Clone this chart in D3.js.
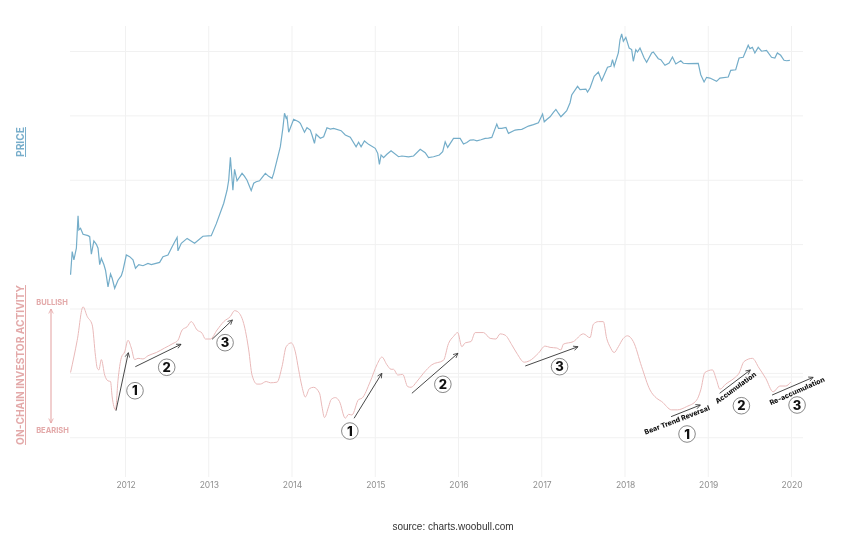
<!DOCTYPE html>
<html>
<head>
<meta charset="utf-8">
<script src="https://cdnjs.cloudflare.com/ajax/libs/d3/7.8.5/d3.min.js"></script>
<style>
  html, body { margin: 0; background: #fff; }
  svg { display: block; filter: blur(0.45px); }
  text { font-family: "Inter", "Liberation Sans", sans-serif; }
</style>
</head>
<body>
<svg id="chart"></svg>
<script>

// [decimal year, price in usd]
var priceData = [
  [2011.34,3.4],[2011.36,7.8],[2011.38,5.8],[2011.41,8.8],[2011.43,28],[2011.44,16.9],[2011.46,17.9],[2011.49,14.5],
  [2011.55,13.8],[2011.57,13.3],[2011.59,7.1],[2011.62,11.4],[2011.65,10.1],[2011.67,8.8],[2011.69,4.9],[2011.71,6.1],
  [2011.74,4.9],[2011.76,4.0],[2011.79,2.2],[2011.82,3.5],[2011.84,3.0],[2011.87,2.1],[2011.91,2.8],[2011.95,3.3],
  [2011.97,4.0],[2012.01,6.9],[2012.05,6.5],[2012.09,5.8],[2012.12,4.3],[2012.16,4.9],[2012.21,4.7],[2012.27,5.1],
  [2012.31,4.9],[2012.41,5.3],[2012.45,6.5],[2012.51,6.9],[2012.56,9.3],[2012.62,13],[2012.63,8.0],[2012.67,10.5],
  [2012.74,12.5],[2012.83,10.5],[2012.93,13.5],[2013.03,13.8],[2013.09,21],[2013.18,44],[2013.22,70],[2013.24,101],
  [2013.26,227],[2013.29,70],[2013.31,148],[2013.34,98],[2013.40,128],[2013.43,115],[2013.46,100],[2013.49,80],
  [2013.51,69],[2013.54,90],[2013.57,95],[2013.61,98],[2013.64,110],[2013.68,128],[2013.72,115],[2013.76,107],
  [2013.78,128],[2013.82,206],[2013.86,332],[2013.89,641],[2013.91,1096],[2013.93,917],[2013.94,971],[2013.96,556],
  [2014.02,885],[2014.08,812],[2014.10,767],[2014.15,556],[2014.18,655],[2014.22,603],[2014.24,505],[2014.27,375],
  [2014.29,518],[2014.34,449],[2014.38,475],[2014.42,655],[2014.46,625],[2014.50,641],[2014.59,589],[2014.64,505],
  [2014.70,465],[2014.77,332],[2014.80,389],[2014.83,332],[2014.87,407],[2014.92,361],[2015.00,313],[2015.03,262],
  [2015.05,177],[2015.07,247],[2015.10,224],[2015.14,253],[2015.19,288],[2015.28,232],[2015.32,238],[2015.40,230],
  [2015.46,238],[2015.54,303],[2015.60,268],[2015.64,224],[2015.70,232],[2015.77,247],[2015.81,277],[2015.84,396],
  [2015.87,324],[2015.94,447],[2016.02,447],[2016.06,365],[2016.10,385],[2016.14,421],[2016.18,425],[2016.22,410],
  [2016.27,425],[2016.32,447],[2016.36,450],[2016.40,463],[2016.46,746],[2016.48,640],[2016.52,640],[2016.57,662],
  [2016.60,535],[2016.68,602],[2016.72,610],[2016.76,617],[2016.80,655],[2016.84,695],[2016.90,730],[2016.96,782],
  [2017.01,1066],[2017.03,809],[2017.06,880],[2017.10,968],[2017.14,1130],[2017.17,1260],[2017.20,1100],[2017.23,968],
  [2017.26,1060],[2017.30,1202],[2017.34,1600],[2017.36,2110],[2017.43,2880],[2017.46,2550],[2017.53,2610],[2017.55,2350],
  [2017.58,2710],[2017.63,4120],[2017.68,4800],[2017.72,3520],[2017.79,5690],[2017.83,5890],[2017.85,7460],[2017.87,5890],
  [2017.92,9480],[2017.94,15200],[2017.96,18700],[2017.98,14400],[2018.01,16600],[2018.05,11300],[2018.08,10700],[2018.10,7050],
  [2018.13,10700],[2018.15,9820],[2018.18,11300],[2018.23,7930],[2018.26,6790],[2018.32,9480],[2018.34,9820],[2018.40,7730],
  [2018.43,7460],[2018.48,6110],[2018.53,6620],[2018.57,8220],[2018.61,6400],[2018.67,7190],[2018.70,6560],[2018.76,6500],
  [2018.88,6560],[2018.91,4360],[2018.95,3360],[2018.98,3970],[2019.02,3870],[2019.10,3440],[2019.14,3870],[2019.24,4020],
  [2019.27,5100],[2019.33,5210],[2019.37,7930],[2019.42,8130],[2019.48,12500],[2019.50,11100],[2019.53,11600],[2019.56,9480],
  [2019.60,11600],[2019.64,10100],[2019.70,10400],[2019.76,8130],[2019.80,7930],[2019.83,9480],[2019.87,8730],[2019.91,7300],
  [2019.94,7190],[2019.98,7300]
];

// [decimal year, activity from bearish -1 to bullish 1]
var activityData = [
  [2011.34,.07],[2011.42,.57],[2011.49,1.09],[2011.54,.94],[2011.60,.81],[2011.64,.32],[2011.66,.14],[2011.68,.11],
  [2011.71,.27],[2011.75,.03],[2011.79,-.06],[2011.82,-.07],[2011.84,-.31],[2011.88,-.51],[2011.91,-.05],[2011.95,.30],
  [2011.99,.39],[2012.03,.57],[2012.07,.45],[2012.11,.27],[2012.15,.29],[2012.21,.28],[2012.27,.33],[2012.37,.38],
  [2012.47,.45],[2012.57,.52],[2012.63,.57],[2012.68,.73],[2012.74,.78],[2012.79,.86],[2012.86,.73],[2012.92,.68],
  [2012.96,.59],[2013.02,.59],[2013.10,.73],[2013.18,.86],[2013.26,.94],[2013.31,1.03],[2013.34,1.02],[2013.42,.83],
  [2013.48,.42],[2013.52,.03],[2013.58,-.11],[2013.62,-.11],[2013.69,-.07],[2013.74,-.09],[2013.82,-.08],[2013.88,.16],
  [2013.93,.47],[2013.99,.53],[2014.04,.39],[2014.08,.11],[2014.12,-.15],[2014.16,-.31],[2014.21,-.18],[2014.26,-.16],
  [2014.33,-.25],[2014.36,-.46],[2014.39,-.63],[2014.44,-.46],[2014.47,-.35],[2014.52,-.32],[2014.57,-.38],[2014.64,-.64],
  [2014.68,-.58],[2014.72,-.59],[2014.80,-.35],[2014.84,-.33],[2014.94,-.07],[2015.02,.19],[2015.08,.31],[2015.14,.19],
  [2015.19,.12],[2015.22,.12],[2015.27,.03],[2015.33,.04],[2015.39,-.15],[2015.43,-.16],[2015.50,-.07],[2015.58,.06],
  [2015.68,.19],[2015.82,.26],[2015.88,.52],[2015.94,.63],[2015.99,.69],[2016.04,.47],[2016.08,.53],[2016.15,.55],
  [2016.20,.69],[2016.30,.69],[2016.38,.60],[2016.45,.59],[2016.50,.67],[2016.56,.65],[2016.64,.50],[2016.70,.37],
  [2016.79,.23],[2016.85,.25],[2016.96,.37],[2017.04,.48],[2017.10,.46],[2017.18,.45],[2017.23,.42],[2017.26,.51],
  [2017.38,.55],[2017.50,.67],[2017.58,.61],[2017.62,.82],[2017.68,.86],[2017.74,.86],[2017.78,.60],[2017.82,.47],
  [2017.87,.38],[2017.92,.47],[2017.98,.60],[2018.03,.64],[2018.10,.55],[2018.20,.16],[2018.30,-.20],[2018.38,-.33],
  [2018.44,-.38],[2018.56,-.51],[2018.63,-.51],[2018.74,-.46],[2018.86,-.36],[2018.91,-.20],[2018.96,.07],[2019.05,.11],
  [2019.10,-.05],[2019.14,-.19],[2019.21,-.11],[2019.31,-.02],[2019.37,.06],[2019.43,.24],[2019.53,.29],[2019.61,.14],
  [2019.69,-.02],[2019.78,-.23],[2019.86,-.14],[2019.93,-.14],[2019.99,-.08]
];

var yearTicks = [2012, 2013, 2014, 2015, 2016, 2017, 2018, 2019, 2020];
var priceTicks = [0.01, 0.1, 1, 10, 100, 1000, 10000];

// trend arrows: year from, activity from, year to, activity to
var arrows = [
  [2011.886,-.523,2012.034,.377],[2012.118,.16,2012.667,.508],[2013.04,.585,2013.284,.885],
  [2014.746,-.641,2015.079,.057],[2015.44,-.253,2015.993,.368],[2016.802,.171,2017.435,.47],
  [2018.553,-.616,2018.905,-.435],[2019.137,-.253,2019.506,.109],[2019.767,-.28,2020.26,-.005]
];
// numbered badges: year, activity, number
var badges = [
  [2012.114,-.213,1],[2012.495,.151,2],[2013.196,.533,3],
  [2014.695,-.839,1],[2015.812,-.113,2],[2017.214,.16,3],
  [2018.745,-.885,1],[2019.398,-.446,2],[2020.067,-.435,3]
];
// phase labels: text, year, activity, angle
var phases = [
  ["Bear Trend Reversal",2018.625,-.668,-21],
  ["Accumulation",2019.33,-.167,-36],
  ["Re-accumulation",2020.067,-.217,-24]
];

var width = 850, height = 551;
var priceColor = "#74adc9", activityColor = "#e9b9b9";

var svg = d3.select("#chart").attr("width", width).attr("height", height);

var x = d3.scaleLinear().domain([2012, 2020]).range([125.5, 791.5]);
var yPrice = d3.scaleLog().domain([1, 10000]).range([309, 51.5]);
var yActivity = d3.scaleLinear().domain([-1, 1]).range([441.4, 312.6]);

var defs = svg.append("defs");
function marker(id, color, orient) {
  defs.append("marker").attr("id", id).attr("viewBox", "0 0 8 8")
    .attr("refX", 7).attr("refY", 4).attr("markerWidth", 6).attr("markerHeight", 6)
    .attr("markerUnits", "userSpaceOnUse").attr("orient", orient)
    .append("path").attr("d", "M1,1L7,4L1,7").attr("fill", "none")
    .attr("stroke", color).attr("stroke-width", 1);
}
marker("head", "#333", "auto");
marker("headRed", "#e39f9f", "auto-start-reverse");

// grid
svg.append("g").selectAll("line").data(priceTicks).enter().append("line")
  .attr("x1", 70).attr("x2", 803)
  .attr("y1", function(d) { return yPrice(d); })
  .attr("y2", function(d) { return yPrice(d); })
  .attr("stroke", "#f1f1f1");
svg.append("line").attr("x1", 70).attr("x2", 803)
  .attr("y1", yActivity(0)).attr("y2", yActivity(0)).attr("stroke", "#f1f1f1");
svg.append("g").selectAll("line").data(yearTicks).enter().append("line")
  .attr("x1", function(d) { return x(d); })
  .attr("x2", function(d) { return x(d); })
  .attr("y1", 26).attr("y2", 477)
  .attr("stroke", "#f1f1f1");

// x axis
var axis = svg.append("g").attr("transform", "translate(0,477)")
  .call(d3.axisBottom(x).tickValues(yearTicks).tickFormat(d3.format("d")).tickSize(0).tickPadding(5));
axis.select(".domain").remove();
axis.selectAll("text").attr("fill", "#8f8f8f").style("font-size", "8.5px");

// lines
var priceLine = d3.line()
  .x(function(d) { return x(d[0]); })
  .y(function(d) { return yPrice(d[1]); });
var activityLine = d3.line()
  .x(function(d) { return x(d[0]); })
  .y(function(d) { return yActivity(d[1]); })
  .curve(d3.curveMonotoneX);

svg.append("path").datum(priceData).attr("d", priceLine)
  .attr("fill", "none").attr("stroke", priceColor).attr("stroke-width", 1.2);
svg.append("path").datum(activityData).attr("d", activityLine)
  .attr("fill", "none").attr("stroke", activityColor).attr("stroke-width", 1);

// annotations
svg.append("g").selectAll("line").data(arrows).enter().append("line")
  .attr("x1", function(d) { return x(d[0]); })
  .attr("y1", function(d) { return yActivity(d[1]); })
  .attr("x2", function(d) { return x(d[2]); })
  .attr("y2", function(d) { return yActivity(d[3]); })
  .attr("stroke", "#333").attr("stroke-width", 0.9)
  .attr("marker-end", "url(#head)");

var badge = svg.append("g").selectAll("g").data(badges).enter().append("g")
  .attr("transform", function(d) { return "translate(" + x(d[0]) + "," + yActivity(d[1]) + ")"; });
badge.append("circle").attr("r", 8.3).attr("fill", "#fff").attr("stroke", "#555").attr("stroke-width", 0.7);
badge.append("text").attr("text-anchor", "middle").attr("dy", "0.36em")
  .attr("font-size", 13).attr("font-weight", 800).attr("fill", "#111")
  .text(function(d) { return d[2]; });

svg.append("g").selectAll("text").data(phases).enter().append("text")
  .attr("text-anchor", "middle").attr("dy", "0.35em")
  .attr("font-size", 7).attr("font-weight", 800).attr("fill", "#111")
  .attr("transform", function(d) {
    return "translate(" + x(d[1]) + "," + yActivity(d[2]) + ") rotate(" + d[3] + ")";
  })
  .text(function(d) { return d[0]; });

// side labels
function sideLabel(txt, cy, color) {
  svg.append("text").attr("transform", "translate(24," + cy + ") rotate(-90)")
    .attr("text-anchor", "middle").attr("font-size", 10.2).attr("font-weight", 700)
    .attr("fill", color).attr("text-decoration", "underline").text(txt);
}
sideLabel("PRICE", 142, "#78aecb");
sideLabel("ON-CHAIN INVESTOR ACTIVITY", 365, "#e3a9a9");

svg.append("text").attr("x", 52).attr("y", 304.5).attr("text-anchor", "middle")
  .attr("font-size", 7.5).attr("font-weight", 700).attr("fill", "#e3a9a9").text("BULLISH");
svg.append("text").attr("x", 52.5).attr("y", 433).attr("text-anchor", "middle")
  .attr("font-size", 7.5).attr("font-weight", 700).attr("fill", "#e3a9a9").text("BEARISH");
svg.append("line").attr("x1", 51).attr("x2", 51).attr("y1", 309).attr("y2", 423)
  .attr("stroke", "#e39f9f").attr("marker-start", "url(#headRed)").attr("marker-end", "url(#headRed)");

svg.append("text").attr("x", 453).attr("y", 529.5).attr("text-anchor", "middle")
  .style("font-family", "'Liberation Sans', sans-serif")
  .attr("font-size", 10).attr("fill", "#333").text("source: charts.woobull.com");

</script>
</body>
</html>
